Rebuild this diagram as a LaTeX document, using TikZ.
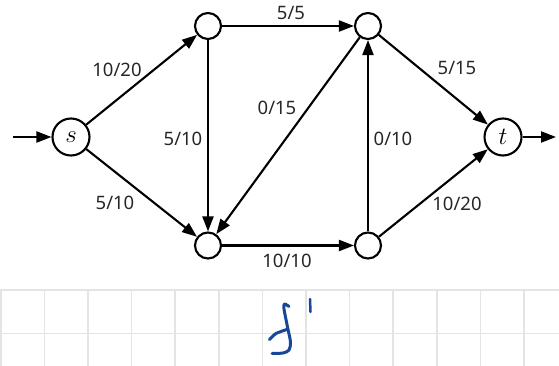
\documentclass[tikz,border=0pt]{standalone}
\usepackage{fontspec}
\setmainfont{Noto Sans}
\usetikzlibrary{arrows.meta}
\definecolor{inkblue}{RGB}{22,72,150}
\definecolor{gridgray}{RGB}{228,228,228}

\begin{document}
\begin{tikzpicture}[x=1pt,y=-1pt,
  vtx/.style={circle,draw,line width=2.1pt,minimum size=26pt,inner sep=0pt},
  term/.style={vtx,minimum size=37pt,font=\fontsize{30}{32}\selectfont},
  flow/.style={line width=2.1pt,-{Triangle[length=15pt,width=11pt]}},
  lbl/.style={text=black!85,font=\fontsize{18.5}{21}\selectfont,inner sep=0pt},
  hand/.style={inkblue,line width=3pt,line cap=round,line join=round}]
  \useasboundingbox (0,0) rectangle (559,366);
  % graph paper
  \foreach \k in {0,...,12}
    \draw[gridgray,line width=1.5pt] (0.8+43.6*\k,290) -- (0.8+43.6*\k,366);
  \foreach \y in {290,333.5}
    \draw[gridgray,line width=1.5pt] (0,\y) -- (559,\y);
  % network
  \node[term] (s) at (71,137) {$s$};
  \node[term] (t) at (503,137) {$t$};
  \node[vtx] (a) at (208,26) {};
  \node[vtx] (b) at (208,245.5) {};
  \node[vtx] (c) at (368,26) {};
  \node[vtx] (d) at (368,245.5) {};
  \coordinate (in) at (13,137);
  \coordinate (out) at (556,137);
  \draw[flow] (in) -- (s);
  \draw[flow] (t) -- (out);
  \foreach \u/\v in {s/a,s/b,a/b,a/c,c/b,b/d,d/c,c/t,d/t}
    \draw[flow] (\u) -- (\v);
  % capacities
  \node[lbl] (l1) at (117,70) {10/20};
  \node[lbl] (l2) at (115,203) {5/10};
  \node[lbl] (l3) at (183,139) {5/10};
  \node[lbl] (l4) at (291,13) {5/5};
  \node[lbl] (l5) at (277,108) {0/15};
  \node[lbl] (l6) at (287,261) {10/10};
  \node[lbl] (l7) at (393,139) {0/10};
  \node[lbl] (l8) at (457,68) {5/15};
  \node[lbl] (l9) at (457,204) {10/20};
  % handwritten mark
  \draw[hand] plot[smooth] coordinates {(289,306.5) (284.5,304) (284,309) (287.5,327) (290.5,342) (289,350) (283,353) (272,353.5)};
  \draw[hand] plot[smooth] coordinates {(269.5,339.5) (276,333.5) (287,329.5)};
  \draw[hand,line width=2.5pt] (310,299) -- (310.5,312);
\end{tikzpicture}
\end{document}
